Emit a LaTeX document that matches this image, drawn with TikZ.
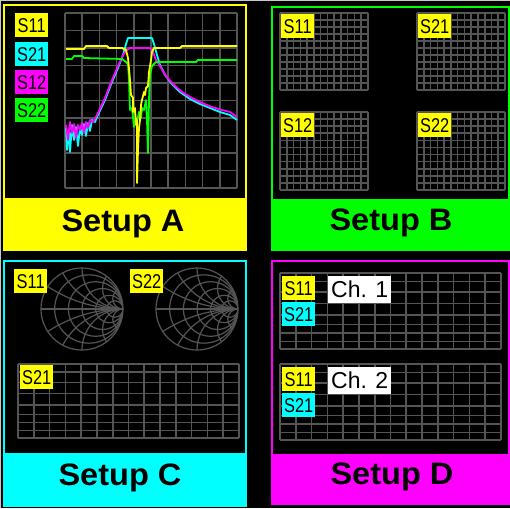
\documentclass[tikz,border=0pt]{standalone}
\usepackage{fontspec}
\setmainfont{Liberation Sans}
\newfontfamily\tagfont[FakeStretch=0.82]{Liberation Sans}
\newfontfamily\titlefont[FakeStretch=1.05]{Liberation Sans}
\usepackage{tikz}
\usetikzlibrary{positioning}
\definecolor{gridgray}{HTML}{555555}
\definecolor{frame}{HTML}{C8C8C8}
\definecolor{pYellow}{HTML}{FFFF00}
\definecolor{pGreen}{HTML}{00FF00}
\definecolor{pCyan}{HTML}{00FFFF}
\definecolor{pMagenta}{HTML}{FF00FF}

% plain grid: left, top, width, height, columns, rows
\newcommand{\ugrid}[6]{%
  \foreach \k in {0,...,#5} \draw[gridline] ({#1+\k*#3/#5},#2) -- ++(0,#4);
  \foreach \k in {0,...,#6} \draw[gridline] (#1,{#2+\k*#4/#6}) -- ++(#3,0);
}
% grid with uneven rows: left, top, width, height, columns
\newcommand{\lgrid}[5]{%
  \foreach \k in {0,...,#5} \draw[gridline] ({#1+\k*#3/#5},#2) -- ++(0,#4);
  \foreach \f in {0,.11,.25,.4,.55,.68,.79,.9,1} \draw[gridline] (#1,{#2+\f*#4}) -- ++(#3,0);
}
% smith chart: centre x, centre y
\newcommand{\smith}[2]{%
  \begin{scope}[shift={(#1,#2)}, x=41pt, y=41pt]
    \begin{scope}
      \clip (0,0) circle (1);
      \foreach \r in {0.2,0.5,1,2,4} \draw[smithline] ({\r/(1+\r)},0) circle ({1/(1+\r)});
      \foreach \q in {0.3,0.6,1,2,4} {
        \draw[smithline] (1,{1/\q}) circle ({1/\q});
        \draw[smithline] (1,{-1/\q}) circle ({1/\q});
      }
      \draw[smithline] (-1,0) -- (1,0);
    \end{scope}
    \draw[smithline] (0,0) circle (1);
  \end{scope}
}

\begin{document}
\begin{tikzpicture}[
    x=1pt, y=-1pt,
    gridline/.style={draw=gridgray, line width=1.6pt},
    smithline/.style={draw=gridgray, line width=1.2pt},
    tag/.style={anchor=north west, inner sep=0pt, minimum width=33pt, minimum height=24pt,
                font=\tagfont\fontsize{20}{20}\selectfont, text=black},
    chtag/.style={tag, fill=white, minimum width=63pt, minimum height=27pt,
                  font=\fontsize{23}{23}\selectfont},
    title/.style={font=\titlefont\fontsize{31}{31}\selectfont\bfseries, text=black},
    trace/.style={line width=1.8pt, line join=round}
  ]
  % screen
  \useasboundingbox (0,0) rectangle (510,508);
  \fill[black] (0,0) rectangle (510,508);
  \draw[frame, line width=2pt] (0,508) -- (0,0) -- (510,0);

  % panels with title bands
  \fill[pYellow] (4,198) rectangle (246,250);
  \draw[pYellow, line width=1.5pt] (4,5) rectangle (246,250);
  \fill[pGreen] (272,199) rectangle (509,250);
  \draw[pGreen, line width=1.5pt] (272,7) rectangle (509,250);
  \fill[pCyan] (4,453) rectangle (246,506);
  \draw[pCyan, line width=1.5pt] (4,261) rectangle (246,506);
  \fill[pMagenta] (272,454) rectangle (509,504);
  \draw[pMagenta, line width=1.5pt] (272,261) rectangle (509,504);

  \node[title] (ta) at (123,224) {Setup A};
  \node[title] (tb) at (391,223) {Setup B};
  \node[title] (tc) at (120,478) {Setup C};
  \node[title] (td) at (392,477) {Setup D};

  % setup A: one plot, four traces
  \ugrid{65}{13}{172}{175}{10}{10}
  \draw[trace, pCyan] plot coordinates {(66,128) (67,150) (69,130) (70,152) (72,125) (74,140)
    (76,127) (78,146) (80,128) (82,135) (84,124) (86,136) (88,123) (90,131) (92,120) (95,122)
    (97,117) (105,100) (112,82) (118,68) (123,55) (126,44) (128,38) (152,38) (154,44) (157,55)
    (160,65) (165,75) (172,84) (180,92) (190,99) (200,104) (210,108) (220,112) (230,115) (237,120)};
  \draw[trace, pMagenta] plot coordinates {(66,125) (68,140) (70,122) (72,133) (74,124) (76,138)
    (78,125) (80,130) (82,123) (84,133) (86,122) (88,128) (90,120) (93,122) (97,115) (105,98)
    (112,80) (118,66) (123,55) (127,50) (130,48) (150,48) (153,52) (156,60) (160,66) (166,76)
    (174,85) (182,92) (192,98) (202,103) (212,107) (222,110) (230,112) (237,117)};
  \draw[trace, pGreen] plot coordinates {(66,59) (72,59) (74,56) (82,56) (84,58) (122,59) (126,62)
    (128,64) (129,80) (130,110) (132,108) (134,127) (136,118) (137,122) (139,112) (141,118)
    (142,108) (144,110) (146,100) (147,120) (148,153) (149,100) (150,75) (152,66) (156,62)
    (196,62) (198,60) (237,60)};
  \draw[trace, pYellow] plot coordinates {(66,49) (84,49) (86,46) (107,46) (109,48) (122,48)
    (126,50) (128,58) (130,80) (131,95) (133,98) (133,112) (135,108) (136,125) (137,120)
    (137,183) (138,150) (139,128) (140,120) (141,105) (142,100) (144,92) (145,95) (146,88)
    (148,86) (149,72) (151,60) (152,52) (154,48) (180,48) (182,46) (237,46)};
  \node[tag, fill=pYellow] (a11) at (15,13) {S11};
  \node[tag, fill=pCyan] (a21) at (15,42) {S21};
  \node[tag, fill=pMagenta] (a12) at (15,70) {S12};
  \node[tag, fill=pGreen] (a22) at (15,98) {S22};

  % setup B: four plots
  \ugrid{280}{13}{88}{77}{13}{11}
  \ugrid{417}{13}{88}{77}{13}{11}
  \ugrid{280}{112}{88}{78}{13}{11}
  \ugrid{417}{112}{88}{78}{13}{11}
  \node[tag, fill=pYellow] (b11) at (281,14) {S11};
  \node[tag, fill=pYellow] (b21) at (418,14) {S21};
  \node[tag, fill=pYellow] (b12) at (281,113) {S12};
  \node[tag, fill=pYellow] (b22) at (418,113) {S22};

  % setup C: two smith charts and one plot
  \smith{82}{309}
  \smith{197}{309}
  \lgrid{18}{364}{221}{74}{14}
  \node[tag, fill=pYellow] (c11) at (14,269) {S11};
  \node[tag, fill=pYellow] (c22) at (130,269) {S22};
  \node[tag, fill=pYellow] (c21) at (20,365) {S21};

  % setup D: two channels
  \lgrid{280}{273}{221}{76}{14}
  \lgrid{280}{364}{221}{76}{14}
  \node[tag, fill=pYellow] (d11) at (282,276) {S11};
  \node[tag, fill=pCyan] (d21) at (282,302) {S21};
  \node[chtag] (ch1) at (328,276) {Ch. 1};
  \node[tag, fill=pYellow] (e11) at (282,367) {S11};
  \node[tag, fill=pCyan] (e21) at (282,393) {S21};
  \node[chtag] (ch2) at (328,367) {Ch. 2};
\end{tikzpicture}
\end{document}
